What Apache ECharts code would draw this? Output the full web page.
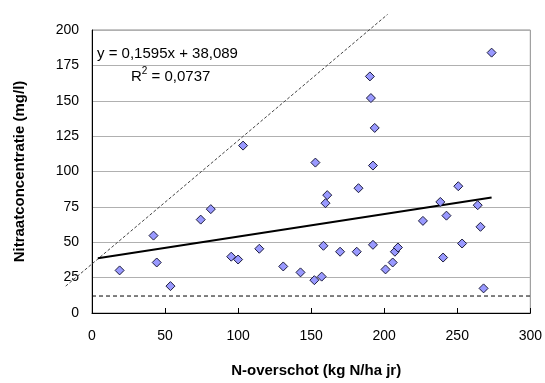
<!DOCTYPE html>
<html>
<head>
<meta charset="utf-8">
<script src="https://cdn.jsdelivr.net/npm/echarts@6/dist/echarts.min.js"></script>
<style>
html,body{margin:0;padding:0;background:#fff;}
#chart{width:545px;height:383px;}
</style>
</head>
<body>
<div id="chart"></div>
<script>
// N-overschot (kg N/ha jr) per point
var nSurplus = [18.9, 42.1, 44.3, 53.7, 74.4, 81.3, 95.3, 100.0, 103.4, 114.5,
  130.9, 142.7, 152.9, 152.2, 157.2, 158.4, 159.8, 161.0, 169.8, 181.2,
  182.4, 190.2, 190.9, 192.3, 192.3, 193.5, 200.9, 205.8, 207.3, 209.4,
  226.5, 238.4, 240.3, 242.6, 250.7, 253.3, 264.0, 265.9, 268.0, 273.5];
// Nitraatconcentratie (mg/l) per point
var nitrate = [30.1, 54.7, 35.7, 19.0, 66.0, 73.4, 39.8, 37.8, 118.3, 45.4,
  32.9, 28.7, 106.3, 23.2, 25.7, 47.5, 77.6, 83.3, 43.3, 43.3,
  88.2, 167.2, 151.9, 48.2, 104.2, 130.8, 30.8, 35.7, 43.3, 46.3,
  65.1, 78.5, 39.2, 68.8, 89.6, 49.1, 76.2, 60.9, 17.4, 184.0];
// Linear trend line endpoints
var trendX = [4, 273.5];
var trendY = [38.7, 81.7];
// Diagonal dashed reference line endpoints (extends beyond the plot)
var refX = [-18, 202.3];
var refY = [19, 211];
// Horizontal dashed norm line
var normX = [0, 300];
var normY = [12, 12];
// Axis ticks
var xTicks = [0, 50, 100, 150, 200, 250, 300];
var yTicks = [0, 25, 50, 75, 100, 125, 150, 175, 200];

var eqText = 'y = 0,1595x + 38,089';
var r2Value = ' = 0,0737';

function pairs(a, b) { return a.map(function (v, i) { return [v, b[i]]; }); }

var FONT = '"Liberation Sans", Arial, sans-serif';
var chart = echarts.init(document.getElementById('chart'), null, {renderer: 'canvas'});
chart.setOption({
  backgroundColor: '#ffffff',
  animation: false,
  textStyle: {fontFamily: FONT},
  grid: {left: 92, right: 13, top: 30, bottom: 65, show: true, borderColor: '#8c8c8c', borderWidth: 1},
  xAxis: {
    type: 'value', min: xTicks[0], max: xTicks[xTicks.length - 1], interval: 50,
    name: 'N-overschot (kg N/ha jr)', nameLocation: 'middle', nameGap: 50,
    nameTextStyle: {fontFamily: FONT, fontWeight: 'bold', fontSize: 15, color: '#000', padding: [0, 0, 0, 10]},
    axisLine: {show: true, onZero: false, lineStyle: {color: '#000', width: 1}},
    axisTick: {show: true, inside: true, length: 5, lineStyle: {color: '#000'}},
    axisLabel: {fontFamily: FONT, fontSize: 14, color: '#000', margin: 16},
    splitLine: {show: false}
  },
  yAxis: {
    type: 'value', min: yTicks[0], max: yTicks[yTicks.length - 1], interval: 25,
    name: 'Nitraatconcentratie (mg/l)', nameLocation: 'middle', nameGap: 65, nameRotate: 90,
    nameTextStyle: {fontFamily: FONT, fontWeight: 'bold', fontSize: 15, color: '#000'},
    axisLine: {show: true, onZero: false, lineStyle: {color: '#000', width: 1}},
    axisTick: {show: false},
    axisLabel: {fontFamily: FONT, fontSize: 14, color: '#000', margin: 13},
    splitLine: {show: true, lineStyle: {color: '#b0b0b0', width: 1}}
  },
  series: [
    {
      type: 'line', data: pairs(normX, normY), symbol: 'none', silent: true,
      lineStyle: {color: '#000', width: 1, type: [4, 3]}, z: 2
    },
    {
      type: 'custom', silent: true, clip: false, z: 2,
      data: [[refX[0], refY[0], refX[1], refY[1]]],
      renderItem: function (params, api) {
        var p1 = api.coord([api.value(0), api.value(1)]);
        var p2 = api.coord([api.value(2), api.value(3)]);
        return {
          type: 'line',
          shape: {x1: p1[0], y1: p1[1], x2: p2[0], y2: p2[1]},
          style: {stroke: '#444', lineWidth: 1, lineDash: [3, 2], fill: null}
        };
      }
    },
    {
      type: 'line', data: pairs(trendX, trendY), symbol: 'none', silent: true,
      lineStyle: {color: '#000', width: 2}, z: 3
    },
    {
      type: 'scatter', data: pairs(nSurplus, nitrate), symbol: 'diamond', symbolSize: 9,
      itemStyle: {color: '#9999ff', borderColor: '#1c1c3c', borderWidth: 1, opacity: 1}, z: 4
    }
  ],
  graphic: [
    {
      type: 'text', left: 97, top: 46, z: 10,
      style: {text: eqText, font: '15px ' + FONT, fill: '#000'}
    },
    {
      type: 'text', left: 131, top: 66, z: 10,
      style: {
        text: '{a|R}{s|2}{a|' + r2Value + '}',
        rich: {
          a: {font: '15px ' + FONT, fill: '#000', verticalAlign: 'bottom', lineHeight: 18},
          s: {font: '10px ' + FONT, fill: '#000', verticalAlign: 'top', lineHeight: 18, padding: [0, 0, 8, 0]}
        }
      }
    }
  ]
});
</script>
</body>
</html>
